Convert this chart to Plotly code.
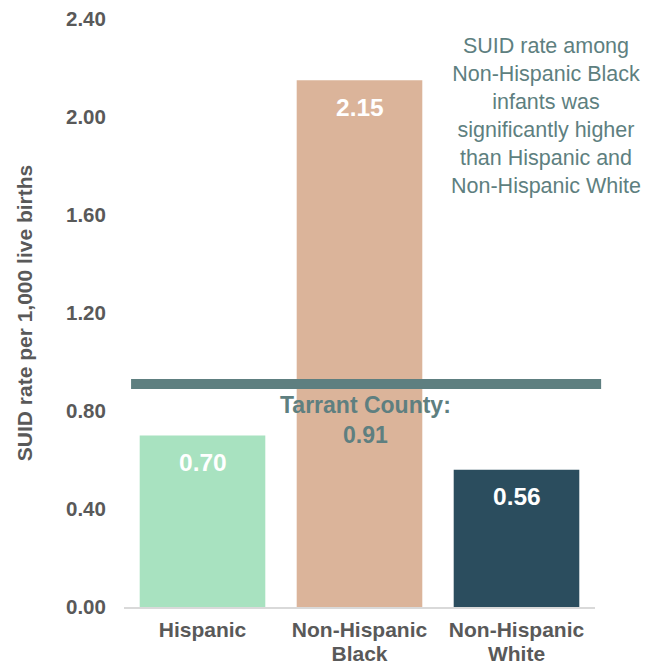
import plotly.graph_objects as go

categories = ["Hispanic", "Non-Hispanic Black", "Non-Hispanic White"]
category_lines = [["Hispanic"], ["Non-Hispanic", "Black"], ["Non-Hispanic", "White"]]
rates = [0.70, 2.15, 0.56]
rate_labels = ["0.70", "2.15", "0.56"]
bar_colors = ["#A8E2C0", "#DBB49A", "#2B4D5E"]
county_rate = 0.91
county_label = "Tarrant County:<br>0.91"
note_text = ("SUID rate among<br>Non-Hispanic Black<br>infants was<br>"
             "significantly higher<br>than Hispanic and<br>Non-Hispanic White")
y_ticks = [0, 0.4, 0.8, 1.2, 1.6, 2.0, 2.4]
y_tick_text = ["0.00", "0.40", "0.80", "1.20", "1.60", "2.00", "2.40"]

FONT = "Liberation Sans, Arial, sans-serif"
TEAL = "#5E7F80"
GRAY = "#595959"

fig = go.Figure()
fig.add_trace(go.Bar(
    x=categories, y=rates, marker=dict(color=bar_colors, line=dict(width=0)),
    width=0.8, hoverinfo="skip", showlegend=False,
))

for c, v, t in zip(categories, rates, rate_labels):
    fig.add_annotation(x=c, y=v, text=f"<b>{t}</b>", showarrow=False,
                       yshift=-27, font=dict(family=FONT, size=24.5, color="white"))

fig.add_shape(type="line", xref="paper", yref="y", x0=0.015, x1=1.013,
              y0=county_rate, y1=county_rate,
              line=dict(color=TEAL, width=10))

fig.add_annotation(x=1, y=county_rate, text=f"<b>{county_label}</b>",
                   showarrow=False, yanchor="top", yshift=-6, xshift=6,
                   font=dict(family=FONT, size=23, color=TEAL))

fig.add_annotation(xref="paper", yref="paper", x=0.896, y=1.0, yanchor="top",
                   xanchor="center",
                   text=note_text, showarrow=False, align="center",
                   yshift=-13,
                   font=dict(family=FONT, size=21.5, color=TEAL))

x_tick_text = ["<br>".join(f"<span style='font-size:21px'>{ln}</span>" for ln in lines)
               for lines in category_lines]
x_tick_text = [f"<b>{t}</b>" for t in x_tick_text]

fig.update_layout(
    width=641, height=658,
    margin=dict(l=116, r=54, t=11, b=59),
    plot_bgcolor="white", paper_bgcolor="white",
    bargap=0.2,
    xaxis=dict(showline=True, linecolor="#D9D9D9", linewidth=2,
               tickvals=categories, ticktext=x_tick_text,
               ticks="outside", ticklen=6, tickcolor="rgba(0,0,0,0)",
               automargin=False, ticklabeloverflow="allow",
               tickfont=dict(family=FONT, size=18.5, color=GRAY)),
    yaxis=dict(range=[0, 2.4], tickvals=y_ticks, ticktext=[f"<b>{t}</b>" for t in y_tick_text],
               automargin=False, ticklabeloverflow="allow",
               showgrid=False, zeroline=False, showline=False, ticks="outside",
               ticklen=13, tickcolor="rgba(0,0,0,0)",
               tickfont=dict(family=FONT, size=20.5, color=GRAY),
               title=dict(text="<b>SUID rate per 1,000 live births</b>",
                          font=dict(family=FONT, size=21, color=GRAY), standoff=27)),
)

fig.write_html("out.html")
